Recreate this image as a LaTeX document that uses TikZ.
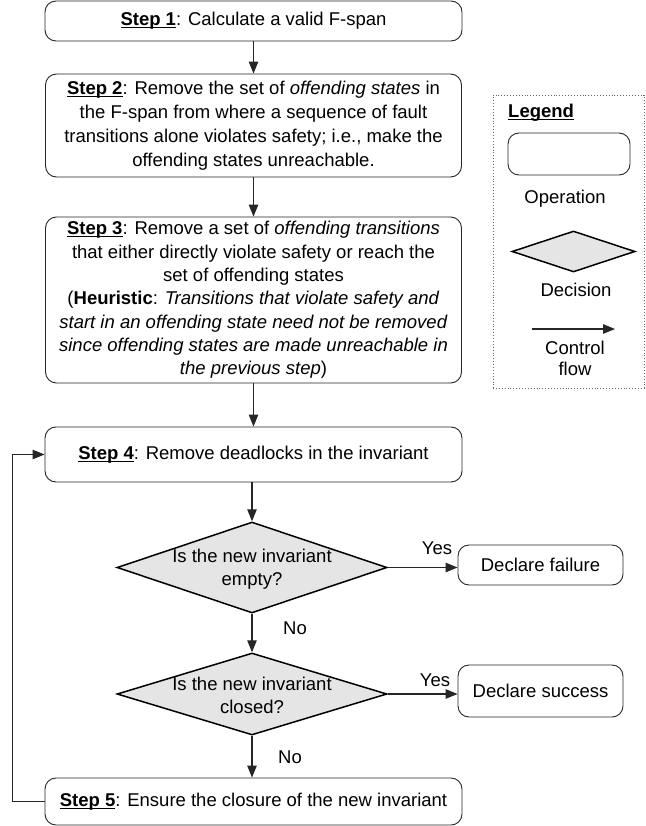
\documentclass[tikz,border=0pt]{standalone}
\usepackage{fontspec}
\setmainfont{Liberation Sans}
\usetikzlibrary{shapes.geometric,arrows.meta}
\newcommand\stepul[1]{\setbox0\hbox{#1}\rlap{\rule[-2.6pt]{\wd0}{1.3pt}}\box0}
\begin{document}
\begin{tikzpicture}[x=1pt,y=-1pt,
  every node/.style={font=\fontsize{18.5}{24}\selectfont, inner sep=0pt},
  opbox/.style={draw=black!85, line width=0.9pt, rounded corners=11pt, align=center},
  decision/.style={diamond, draw=black, line width=1.5pt, fill=black!10, inner sep=0pt},
  flow/.style={line width=1.1pt, draw=black!85, -{Triangle[length=12pt,width=9.5pt]}},
  txt/.style={align=center}]
\useasboundingbox (0,0) rectangle (645,826);

% main steps
\node[opbox, minimum width=417pt, minimum height=40pt] (s1) at (253.5,21)
  {\stepul{\textbf{Step 1}}: Calculate a valid F-span};
\node[opbox, minimum width=416pt, minimum height=103pt] (s2) at (253.5,125.5)
  {\stepul{\textbf{Step 2}}: Remove the set of \textit{offending states} in\\
   the F-span from where a sequence of fault\\
   transitions alone violates safety; i.e., make the\\
   offending states unreachable.};
\node[opbox, minimum width=416pt, minimum height=166pt, font=\fontsize{18.5}{23.3}\selectfont] (s3) at (253.5,300)
  {\stepul{\textbf{Step 3}}: Remove a set of \textit{offending transitions}\\
   that either directly violate safety or reach the\\
   set of offending states\\
   (\textbf{Heuristic}: \textit{Transitions that violate safety and}\\
   \textit{start in an offending state need not be removed}\\
   \textit{since offending states are made unreachable in}\\
   \textit{the previous step})};
\node[opbox, minimum width=417pt, minimum height=55pt] (s4) at (253.5,454.5)
  {\stepul{\textbf{Step 4}}: Remove deadlocks in the invariant};
\node[opbox, minimum width=417pt, minimum height=47pt] (s5) at (253.5,801.5)
  {\raisebox{-2pt}{\stepul{\textbf{Step 5}}: Ensure the closure of the new invariant}};

% decisions
\node[decision, minimum width=270pt, minimum height=91pt] (d1) at (252,567.5) {};
\node[txt, font=\fontsize{18.5}{23}\selectfont] (d1t) at (252,569) {Is the new invariant\\empty?};
\node[decision, minimum width=270pt, minimum height=82pt] (d2) at (252,694) {};
\node[txt, font=\fontsize{18.5}{23}\selectfont] (d2t) at (252,695) {Is the new invariant\\closed?};

% outcomes
\node[opbox, minimum width=165pt, minimum height=40pt] (fail) at (540.5,565) {Declare failure};
\node[opbox, minimum width=165pt, minimum height=52pt] (succ) at (540.5,691) {Declare success};

% connectors
\draw[flow] (s1) -- (s2);
\draw[flow] (s2) -- (s3);
\draw[flow] (s3) -- (s4);
\draw[flow] (s4.south -| d1.north) -- (d1.north);
\draw[flow] (d1.south) -- (d2.north);
\draw[flow] (d2.south) -- (s5.north -| d2.south);
\draw[flow] (d1.east) -- (d1.east -| fail.west);
\draw[flow] (d2.east) -- (d2.east -| succ.west);
\draw[flow] (s5.west) -- ++(-32,0) |- (s4.west);

% labels
\node (yes1) at (437,548) {Yes};
\node (yes2) at (435,680) {Yes};
\node (no1) at (295,628) {No};
\node (no2) at (290,757) {No};

% legend
\node[draw=black!60, dotted, line width=0.9pt, minimum width=151pt, minimum height=293pt] (legend) at (568.5,241.5) {};
\node[anchor=west] (legt) at (508,113) {\stepul{\textbf{Legend}}};
\node[opbox, minimum width=122pt, minimum height=42pt] (lop) at (569,154) {};
\node (lopt) at (565,199) {Operation};
\node[decision, minimum width=123pt, minimum height=41pt] (ldec) at (573.5,251.5) {};
\node (ldect) at (576,290) {Decision};
\coordinate (la) at (532,329);
\coordinate (lb) at (615,329);
\draw[flow] (la) -- (lb);
\node[txt, font=\fontsize{18.5}{21}\selectfont] (lflow) at (575,358) {Control\\flow};
\end{tikzpicture}
\end{document}
